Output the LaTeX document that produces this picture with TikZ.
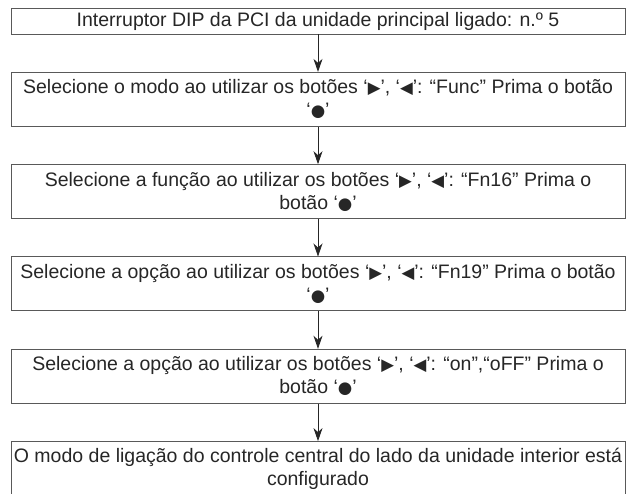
\documentclass[tikz,border=0pt]{standalone}
\usepackage{fontspec}
\setmainfont{Liberation Sans}
\newfontfamily\symfont{DejaVu Sans}[Scale=0.85]
\usetikzlibrary{positioning, arrows.meta}

\newcommand{\rbtn}{‘{\symfont ▶}’}
\newcommand{\lbtn}{‘{\symfont ◀}’}
\newcommand{\okbtn}{‘{\symfont ●}’}

\begin{document}
\begin{tikzpicture}[
    x=1pt, y=1pt,
    node distance = 37.5pt,
    box/.style = {rectangle, draw=black!65, line width=0.8pt,
                  minimum width=614pt, inner xsep=0pt, minimum height=54pt,
                  align=center, font=\fontsize{19.5}{23}\selectfont, text=black!85},
    arr/.style = {-{Stealth[length=13pt, width=9pt, inset=4pt]}, line width=0.8pt, black!85}
]
\useasboundingbox (0,0) rectangle (633,-494);

% Steps
\node[box, minimum height=26pt] (dip) at (318,-21)
    {Interruptor DIP da PCI da unidade principal ligado: n.º 5};
\node[box, below=of dip]   (modo)
    {Selecione o modo ao utilizar os botões \rbtn, \lbtn: “Func” Prima o botão\\ \okbtn};
\node[box, below=of modo]  (func)
    {Selecione a função ao utilizar os botões \rbtn, \lbtn: “Fn16” Prima o\\ botão \okbtn};
\node[box, below=of func]  (opcao)
    {Selecione a opção ao utilizar os botões \rbtn, \lbtn: “Fn19” Prima o botão\\ \okbtn};
\node[box, below=of opcao] (onoff)
    {Selecione a opção ao utilizar os botões \rbtn, \lbtn: “on”,“oFF” Prima o\\ botão \okbtn};
\node[box, below=of onoff] (fim)
    {O modo de ligação do controle central do lado da unidade interior está\\ configurado};

% Arrows
\draw[arr] (dip)   -- (modo);
\draw[arr] (modo)  -- (func);
\draw[arr] (func)  -- (opcao);
\draw[arr] (opcao) -- (onoff);
\draw[arr] (onoff) -- (fim);
\end{tikzpicture}
\end{document}
